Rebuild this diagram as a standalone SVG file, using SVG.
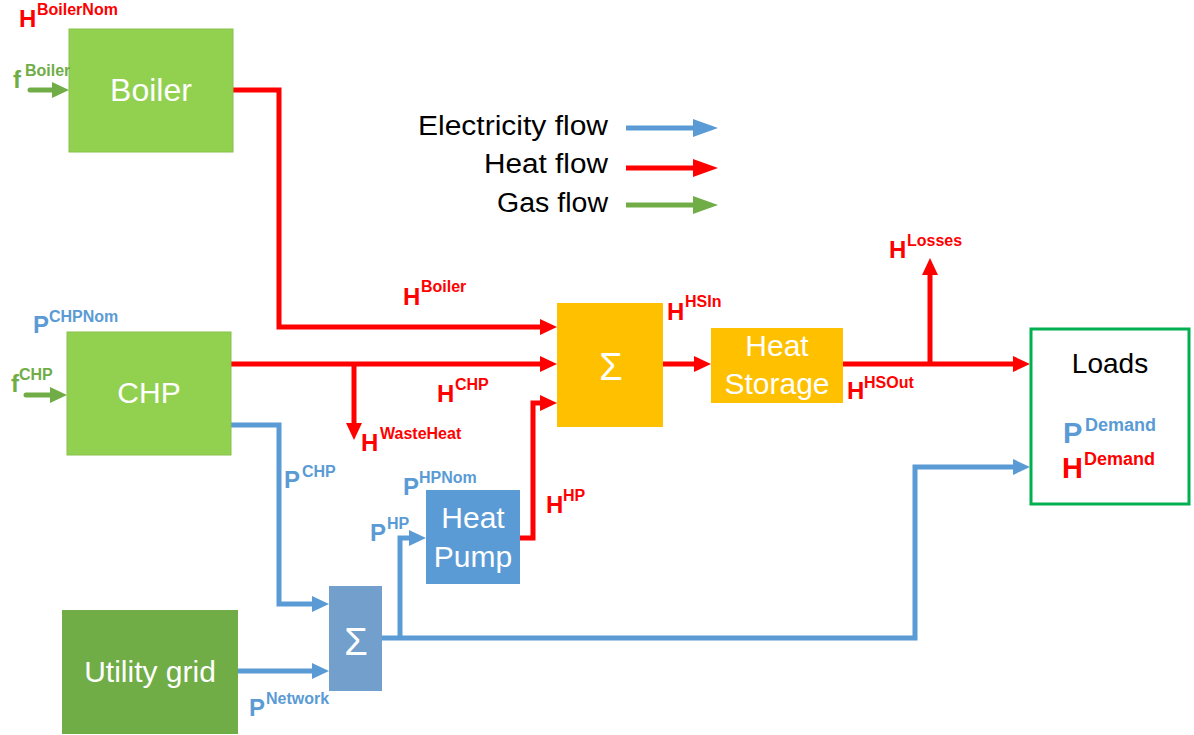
<svg xmlns="http://www.w3.org/2000/svg" width="1194" height="735" viewBox="0 0 1194 735">
<style>
.lbl{font-family:"Liberation Sans",Arial,sans-serif;font-weight:bold;font-size:24px}
.sup{font-size:16px}
.box{font-family:"Liberation Sans",Arial,sans-serif;font-size:30px;fill:#ffffff;text-anchor:middle}
.sig{font-size:38px}
.leg{font-family:"Liberation Sans",Arial,sans-serif;font-size:27px;fill:#000000;text-anchor:end}
.r{fill:#ff0000}.b{fill:#5b9bd5}.g{fill:#70ad47}
.hr{stroke:#ff0000;stroke-width:5;fill:none}
.eb{stroke:#5b9bd5;stroke-width:5;fill:none}
.gg{stroke:#70ad47;stroke-width:5;fill:none}
</style>
<defs>
<marker id="mr" markerUnits="userSpaceOnUse" markerWidth="18" markerHeight="16" refX="2" refY="8" orient="auto"><path d="M0,0 L17,8 L0,16 z" fill="#ff0000"/></marker>
<marker id="mb" markerUnits="userSpaceOnUse" markerWidth="18" markerHeight="16" refX="2" refY="8" orient="auto"><path d="M0,0 L17,8 L0,16 z" fill="#5b9bd5"/></marker>
<marker id="mg" markerUnits="userSpaceOnUse" markerWidth="18" markerHeight="16" refX="2" refY="8" orient="auto"><path d="M0,0 L17,8 L0,16 z" fill="#70ad47"/></marker>
<marker id="lr" markerUnits="userSpaceOnUse" markerWidth="26" markerHeight="18" refX="2" refY="9" orient="auto"><path d="M0,0 L25,9 L0,18 z" fill="#ff0000"/></marker>
<marker id="lb" markerUnits="userSpaceOnUse" markerWidth="26" markerHeight="18" refX="2" refY="9" orient="auto"><path d="M0,0 L25,9 L0,18 z" fill="#5b9bd5"/></marker>
<marker id="lg" markerUnits="userSpaceOnUse" markerWidth="26" markerHeight="18" refX="2" refY="9" orient="auto"><path d="M0,0 L25,9 L0,18 z" fill="#70ad47"/></marker>
</defs>
<rect width="1194" height="735" fill="#ffffff"/>

<g id="connectors">
<path class="gg" d="M30,90 L54,90" stroke-linecap="round" marker-end="url(#mg)"/>
<path class="gg" d="M26,395 L52,395" stroke-linecap="round" marker-end="url(#mg)"/>
<path class="hr" d="M233,90 L279,90 L279,327 L542,327" marker-end="url(#mr)"/>
<path class="hr" d="M231,364 L542,364" marker-end="url(#mr)"/>
<path class="hr" d="M354,364 L354,425" marker-end="url(#mr)"/>
<path class="hr" d="M520,538 L533,538 L533,403 L542,403" marker-end="url(#mr)"/>
<path class="hr" d="M663,364 L696,364" marker-end="url(#mr)"/>
<path class="hr" d="M843,364 L1015,364" marker-end="url(#mr)"/>
<path class="hr" d="M930,364 L930,273" marker-end="url(#mr)"/>
<path class="eb" d="M231,425 L279,425 L279,604 L314,604" marker-end="url(#mb)"/>
<path class="eb" d="M238,671 L314,671" marker-end="url(#mb)"/>
<path class="eb" d="M382,638 L915,638 L915,467 L1015,467" marker-end="url(#mb)"/>
<path class="eb" d="M400,638 L400,538 L411,538" marker-end="url(#mb)"/>
<path class="eb" d="M626,128 L695,128" marker-end="url(#lb)"/>
<path class="hr" d="M626,168 L695,168" marker-end="url(#lr)"/>
<path class="gg" d="M626,205 L695,205" marker-end="url(#lg)"/>
</g>

<g id="legend">
<text class="leg" x="608" y="135" textLength="190" lengthAdjust="spacingAndGlyphs">Electricity flow</text>
<text class="leg" x="608" y="173" textLength="124" lengthAdjust="spacingAndGlyphs">Heat flow</text>
<text class="leg" x="608" y="212" textLength="111" lengthAdjust="spacingAndGlyphs">Gas flow</text>
</g>

<g id="boiler">
<rect x="69" y="29" width="164" height="123" fill="#92d050" stroke="#86c24a" stroke-width="1"/>
<text class="box" x="151" y="101" style="font-size:32px">Boiler</text>
</g>

<g id="chp">
<rect x="67" y="332" width="164" height="123" fill="#92d050" stroke="#86c24a" stroke-width="1"/>
<text class="box" x="149" y="403">CHP</text>
</g>

<g id="utility-grid">
<rect x="62" y="610" width="176" height="124" fill="#70ad47"/>
<text class="box" x="150" y="682">Utility grid</text>
</g>

<g id="heat-sum">
<rect x="557" y="303" width="106" height="124" fill="#ffc000"/>
<text class="box sig" x="611" y="380">Σ</text>
</g>

<g id="heat-storage">
<rect x="711" y="328" width="132" height="75" fill="#ffc000"/>
<text class="box" x="777" y="356">Heat</text>
<text class="box" x="777" y="394">Storage</text>
</g>

<g id="heat-pump">
<rect x="426" y="490" width="94" height="94" fill="#5b9bd5"/>
<text class="box" x="473" y="528">Heat</text>
<text class="box" x="473" y="567">Pump</text>
</g>

<g id="elec-sum">
<rect x="329" y="586" width="53" height="105" fill="#739fcd"/>
<text class="box sig" x="356" y="655">Σ</text>
</g>

<g id="loads">
<rect x="1031" y="329" width="158" height="175" fill="#ffffff" stroke="#00b050" stroke-width="3"/>
<text class="box" x="1110" y="373" style="font-size:28px;fill:#000000">Loads</text>
<text class="lbl b" x="1063" y="443" style="font-size:29px">P</text>
<text class="lbl b" x="1085" y="431" style="font-size:18px">Demand</text>
<text class="lbl r" x="1062" y="478" style="font-size:29px">H</text>
<text class="lbl r" x="1084" y="465" style="font-size:18px">Demand</text>
</g>

<g id="labels">
<text class="lbl r" x="19" y="27">H</text><text class="lbl r sup" x="37" y="15">BoilerNom</text>
<text class="lbl g" x="13" y="88">f</text><text class="lbl g sup" x="25" y="76">Boiler</text>
<text class="lbl b" x="33" y="333">P</text><text class="lbl b sup" x="49" y="322">CHPNom</text>
<text class="lbl g" x="11" y="392">f</text><text class="lbl g sup" x="19" y="380">CHP</text>
<text class="lbl r" x="403" y="305">H</text><text class="lbl r sup" x="421" y="292">Boiler</text>
<text class="lbl r" x="437" y="402">H</text><text class="lbl r sup" x="455" y="390">CHP</text>
<text class="lbl r" x="361" y="451">H</text><text class="lbl r sup" x="380" y="439">WasteHeat</text>
<text class="lbl r" x="667" y="320">H</text><text class="lbl r sup" x="685" y="307">HSIn</text>
<text class="lbl r" x="847" y="399">H</text><text class="lbl r sup" x="864" y="388">HSOut</text>
<text class="lbl r" x="889" y="258">H</text><text class="lbl r sup" x="907" y="246">Losses</text>
<text class="lbl b" x="284" y="488">P</text><text class="lbl b sup" x="302" y="477">CHP</text>
<text class="lbl b" x="403" y="495">P</text><text class="lbl b sup" x="419" y="483">HPNom</text>
<text class="lbl b" x="370" y="541">P</text><text class="lbl b sup" x="387" y="529">HP</text>
<text class="lbl r" x="546" y="513">H</text><text class="lbl r sup" x="563" y="501">HP</text>
<text class="lbl b" x="249" y="716">P</text><text class="lbl b sup" x="266" y="704">Network</text>
</g>
</svg>
